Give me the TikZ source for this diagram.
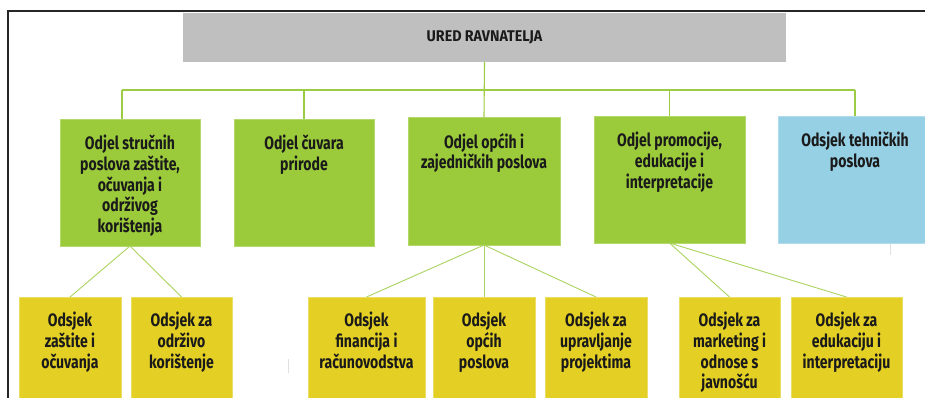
\documentclass[tikz,border=0pt]{standalone}
\usepackage{fontspec}
\setmainfont[FakeStretch=0.78]{Fira Sans}
\newfontfamily\headfont[FakeStretch=0.92]{Fira Sans}
\definecolor{boxgreen}{HTML}{9BCB3B}
\definecolor{boxblue}{HTML}{96D0E4}
\definecolor{boxyellow}{HTML}{E4CF24}
\definecolor{boxgray}{HTML}{BFBFBF}
\definecolor{linegreen}{HTML}{9CCB45}
\definecolor{txtcol}{HTML}{1A1A1A}
\tikzset{
  conn/.style={draw=linegreen, line width=1.1pt},
  subconn/.style={draw=linegreen!85!white, line width=0.9pt},
  box/.style={anchor=north west, inner sep=0pt, outer sep=0pt, line width=0.7pt},
  lvone/.style={box, fill=boxgreen, draw=boxgreen!75!white},
  lvblue/.style={box, fill=boxblue, draw=boxblue!75!white},
  lvtwo/.style={box, fill=boxyellow, draw=boxyellow!70!white},
  txt/.style={anchor=north, align=center, inner sep=0pt, text=txtcol,
    font=\bfseries\fontsize{18}{20.7}\selectfont},
  artefact/.style={draw=black!12, line width=1pt}
}
\begin{document}
\begin{tikzpicture}[x=1pt,y=-1pt]
\clip (0,0) rectangle (925,398);
\fill[white] (0,0) rectangle (925,398);
% frame
\draw[black!85, line width=2.2pt] (8,420) -- (8,11) -- (940,11);
% head
\node[box, fill=boxgray, minimum width=603pt, minimum height=49pt] (head) at (183,13) {};
\node[inner sep=0pt, text=txtcol, font=\headfont\bfseries\fontsize{15.5}{18}\selectfont] (headtxt) at (head.center) {URED RAVNATELJA};
% level one
\node[lvone, minimum width=140pt, minimum height=127pt] (b1) at (60,119) {};
\node[lvone, minimum width=140pt, minimum height=127pt] (b2) at (234,119) {};
\node[lvone, minimum width=152pt, minimum height=128pt] (b3) at (408,117) {};
\node[lvone, minimum width=151pt, minimum height=127pt] (b4) at (594,116) {};
\node[lvblue, minimum width=154pt, minimum height=127pt] (b5) at (778,116) {};
% level two
\node[lvtwo, minimum width=102pt, minimum height=115pt] (c1) at (19,297) {};
\node[lvtwo, minimum width=101pt, minimum height=115pt] (c2) at (131,297) {};
\node[lvtwo, minimum width=117pt, minimum height=115pt] (c3) at (308,297) {};
\node[lvtwo, minimum width=102pt, minimum height=115pt] (c4) at (433,297) {};
\node[lvtwo, minimum width=102pt, minimum height=115pt] (c5) at (545,297) {};
\node[lvtwo, minimum width=101pt, minimum height=115pt] (c6) at (679,297) {};
\node[lvtwo, minimum width=111pt, minimum height=115pt] (c7) at (791,297) {};
% bus
\coordinate (busL) at (122,90);
\coordinate (busR) at (855,90);
\draw[conn] (head.south) -- (b3.north);
\draw[conn] (busL) -- (busR);
\draw[conn] (busL) -- (busL |- b1.north);
\draw[conn] (b2.north) -- (b2.north |- busL);
\draw[conn] (b4.north) -- (b4.north |- busL);
\draw[conn] (busR) -- (busR |- b5.north);
% sub connectors
\draw[subconn] (b1.south) -- (c1.north);
\draw[subconn] (b1.south) -- (c2.north);
\draw[subconn] (b3.south) -- (c3.north);
\draw[subconn] (b3.south) -- (c4.north);
\draw[subconn] (b3.south) -- (c5.north);
\draw[subconn] (b4.south) -- (c6.north);
\draw[subconn] (b4.south) -- (c7.north);
% texts
\node[txt] (t1) at ([yshift=-16pt]b1.north) {Odjel stručnih\\poslova zaštite,\\očuvanja i\\održivog\\korištenja};
\node[txt] (t2) at ([yshift=-16pt]b2.north) {Odjel čuvara\\prirode};
\node[txt] (t3) at ([yshift=-16pt]b3.north) {Odjel općih i\\zajedničkih poslova};
\node[txt] (t4) at ([yshift=-16pt]b4.north) {Odjel promocije,\\edukacije i\\interpretacije};
\node[txt] (t5) at ([yshift=-16pt]b5.north) {Odsjek tehničkih\\poslova};
\node[txt] (s1) at ([yshift=-15pt]c1.north) {Odsjek\\zaštite i\\očuvanja};
\node[txt] (s2) at ([yshift=-15pt]c2.north) {Odsjek za\\održivo\\korištenje};
\node[txt] (s3) at ([yshift=-15pt]c3.north) {Odsjek\\financija i\\računovodstva};
\node[txt] (s4) at ([yshift=-15pt]c4.north) {Odsjek\\općih\\poslova};
\node[txt] (s5) at ([yshift=-15pt]c5.north) {Odsjek za\\upravljanje\\projektima};
\node[txt] (s6) at ([yshift=-15pt]c6.north) {Odsjek za\\marketing i\\odnose s\\javnošću};
\node[txt] (s7) at ([yshift=-15pt]c7.north) {Odsjek za\\edukaciju i\\interpretaciju};
% faint marks
\coordinate (m1) at (890,244);
\coordinate (m2) at (288,359);
\draw[artefact] (m1) -- ++(0,11);
\draw[artefact] (m2) -- ++(0,14);
\end{tikzpicture}
\end{document}
